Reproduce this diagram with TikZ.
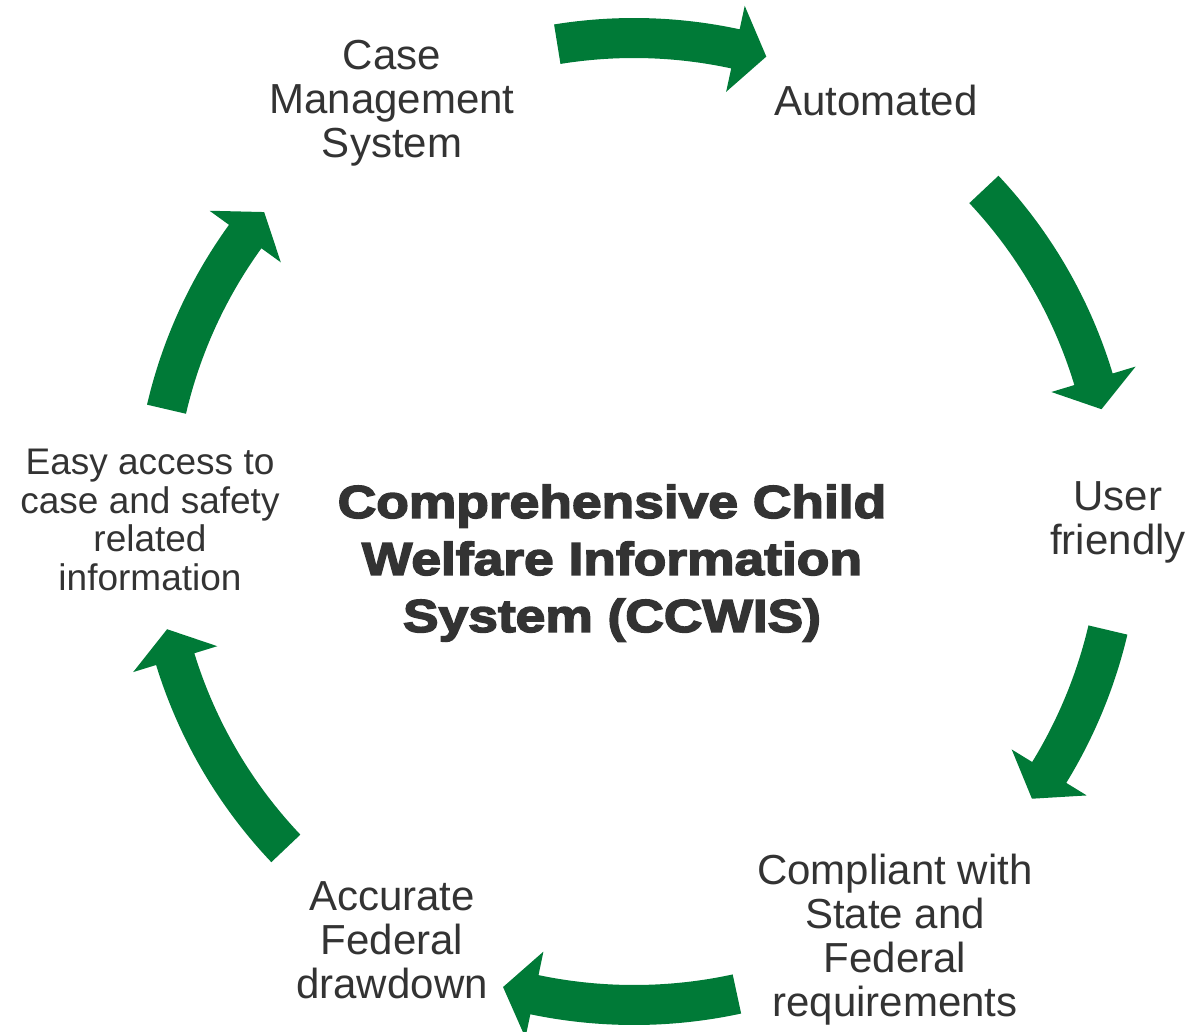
\documentclass[tikz,border=0pt]{standalone}
\usepackage{fontspec}
\setmainfont{Liberation Sans}
\newfontfamily\heavyfont{Liberation Sans}[BoldFeatures={FakeBold=3.5,FakeStretch=1.16}]
\usepackage{xcolor}
\definecolor{cwgreen}{HTML}{007A37}
\definecolor{txtgray}{HTML}{333333}

\begin{document}
\begin{tikzpicture}[x=1pt,y=1pt,
  cyclelabel/.style={align=center,text=txtgray,font=\fontsize{42}{44}\selectfont},
  smalllabel/.style={align=center,text=txtgray,font=\fontsize{37}{38.5}\selectfont},
  hubtext/.style={align=center,text=txtgray,font=\heavyfont\bfseries\fontsize{46}{57}\selectfont},
  cyclearrow/.style={fill=cwgreen}]
\useasboundingbox (0,0) rectangle (1199,-1032);
\coordinate (ring) at (634,-518);

% centre title
\node[hubtext] (hub) at (612,-563) {Comprehensive Child\\Welfare Information\\System (CCWIS)};

% the six steps
\foreach \nm/\pos/\txt in {cms/{(392,-103)}/{Case\\Management\\System},
    auto/{(876,-100)}/{Automated},
    user/{(1118,-522)}/{User\\friendly},
    comp/{(895,-940)}/{Compliant with\\State and\\Federal\\requirements},
    draw/{(392,-940)}/{Accurate\\Federal\\drawdown}}
  {\node[cyclelabel] (\nm) at \pos {\txt};}
\node[smalllabel] (easy) at (150,-520) {Easy access to\\case and safety\\related\\information};

% curved block arrows round the ring
\begin{scope}[shift={(ring)}]
  \foreach \tail/\base/\tip/\r in {99.2/77.8/74.0/480, 43.2/16.8/13.1/480,
      -13.3/-31.5/-35.2/487, -77.8/-101.8/-105.6/487,
      -136.5/-162.9/-166.6/480, 166.9/144.1/140.4/480}
  {\fill[cyclearrow] (\tail:\r+20) arc[start angle=\tail,end angle=\base,radius=\r pt+20pt]
      -- (\base:\r+44) -- (\tip:\r) -- (\base:\r-44) -- (\base:\r-20)
      arc[start angle=\base,end angle=\tail,radius=\r pt-20pt] -- cycle;}
\end{scope}
\end{tikzpicture}
\end{document}
